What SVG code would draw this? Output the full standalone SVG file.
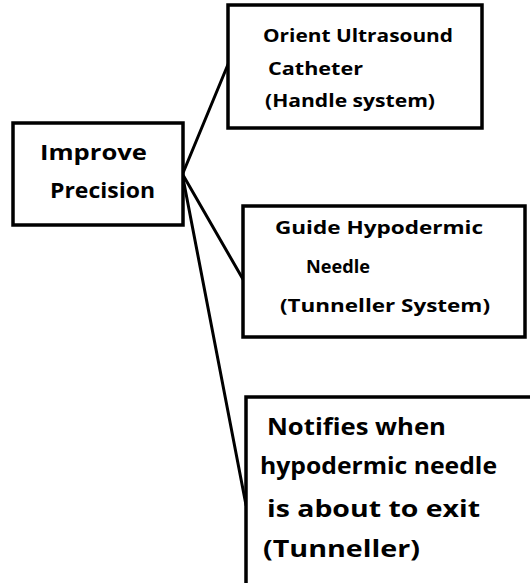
<svg xmlns="http://www.w3.org/2000/svg" width="530" height="583" viewBox="0 0 530 583">
  <style>
    .box { fill: #ffffff; stroke: #000000; stroke-width: 3.5; }
    .link { stroke: #000000; stroke-width: 3; fill: none; stroke-linecap: round; }
    .t { font-family: "Open Sans", "Liberation Sans", sans-serif; font-weight: 700; fill: #000000; }
    .s1 { font-size: 21px; }
    .s2 { font-size: 17px; }
    .s3 { font-size: 24px; }
  </style>
  <rect width="530" height="583" fill="#ffffff"/>

  <!-- connectors fanning out from the root box -->
  <g id="connectors">
    <line class="link" x1="183" y1="173" x2="229" y2="62"/>
    <line class="link" x1="183" y1="175" x2="244" y2="281"/>
    <line class="link" x1="183" y1="178" x2="246" y2="505"/>
  </g>

  <g id="improve-precision">
    <rect class="box" x="13" y="123" width="170" height="102"/>
    <text class="t s1" x="40" y="160" textLength="107" lengthAdjust="spacingAndGlyphs">Improve</text>
    <text class="t s1" x="50" y="198" textLength="105" lengthAdjust="spacingAndGlyphs">Precision</text>
  </g>

  <g id="orient-catheter">
    <rect class="box" x="228" y="5" width="254" height="123"/>
    <text class="t s2" x="263" y="42" textLength="190" lengthAdjust="spacingAndGlyphs">Orient Ultrasound</text>
    <text class="t s2" x="268" y="75" textLength="95" lengthAdjust="spacingAndGlyphs">Catheter</text>
    <text class="t s2" x="265" y="107" textLength="170" lengthAdjust="spacingAndGlyphs">(Handle system)</text>
  </g>

  <g id="guide-needle">
    <rect class="box" x="243" y="206" width="282" height="131"/>
    <text class="t s2" x="275" y="234" textLength="208" lengthAdjust="spacingAndGlyphs">Guide Hypodermic</text>
    <text class="t s2" x="306" y="273" textLength="64" lengthAdjust="spacingAndGlyphs">Needle</text>
    <text class="t s2" x="280" y="312" textLength="210" lengthAdjust="spacingAndGlyphs">(Tunneller System)</text>
  </g>

  <g id="exit-notice">
    <rect class="box" x="246" y="397" width="300" height="200"/>
    <text class="t s3" x="267" y="435" textLength="179" lengthAdjust="spacingAndGlyphs">Notifies when</text>
    <text class="t s3" x="260" y="474" textLength="237" lengthAdjust="spacingAndGlyphs">hypodermic needle</text>
    <text class="t s3" x="267" y="517" textLength="213" lengthAdjust="spacingAndGlyphs">is about to exit</text>
    <text class="t s3" x="263" y="557" textLength="157" lengthAdjust="spacingAndGlyphs">(Tunneller)</text>
  </g>
</svg>
